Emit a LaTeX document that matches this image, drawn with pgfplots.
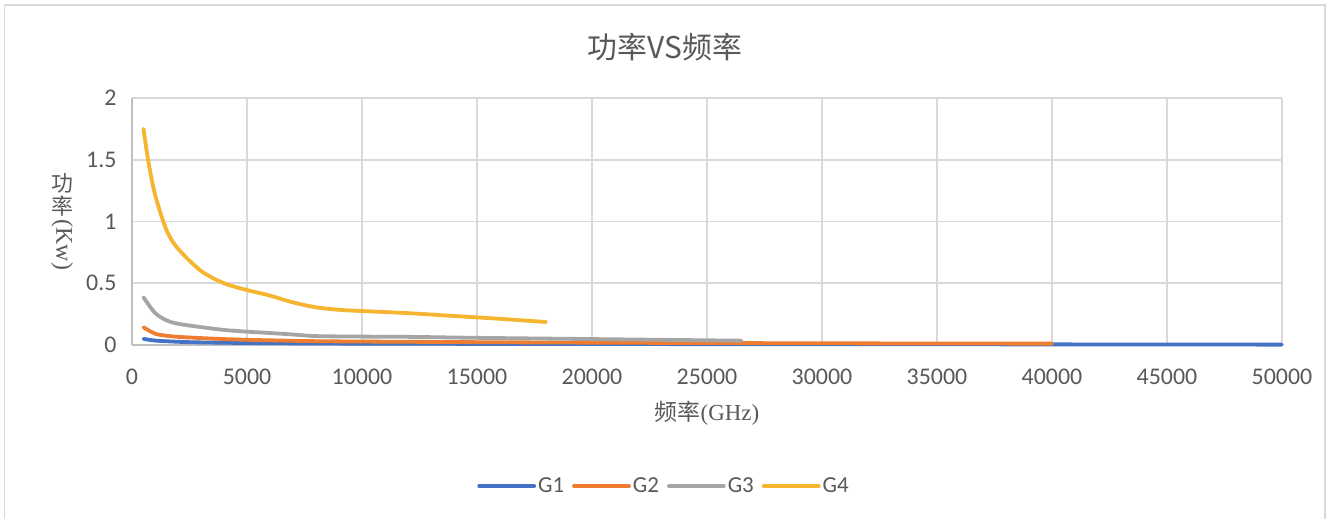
\documentclass[border=0pt]{standalone}
\usepackage{fontspec}
\setmainfont{Carlito}
\newfontfamily\cjk{Noto Sans CJK SC}
\newfontfamily\lserif{Liberation Serif}
\usepackage{pgfplots}
\pgfplotsset{compat=1.18}
\definecolor{cG1}{HTML}{4472C4}
\definecolor{cG2}{HTML}{ED7D31}
\definecolor{cG3}{HTML}{A5A5A5}
\definecolor{cG4}{HTML}{F6B530}
\definecolor{txt}{HTML}{595959}
\definecolor{grd}{HTML}{D9D9D9}
\definecolor{axl}{HTML}{BFBFBF}
\begin{document}
\begin{tikzpicture}
\useasboundingbox (0,0) rectangle (1330bp,519bp);
\fill[white] (0,0) rectangle (1330bp,519bp);
\draw[grd, line width=1.6bp] (4.5bp,-20bp) rectangle (1325bp,514bp);
\node[font=\cjk\fontsize{30}{33}\selectfont, text=txt] at (665bp,472bp) {功率VS频率};
\node[font=\cjk\fontsize{23}{26}\selectfont, text=txt] at (707bp,106bp) {频率{\lserif(GHz)}};
\node[font=\cjk\fontsize{22}{25}\selectfont, text=txt, align=center, inner sep=0pt] at (62bp,297bp) {功\\[-2bp]率\\[2bp]\rotatebox[origin=c]{-90}{\lserif\fontsize{24}{26}\selectfont(Kw)}};
\begin{axis}[
  at={(132bp,174bp)}, anchor=south west,
  width=1150bp, height=247bp, scale only axis,
  xmin=0, xmax=50000, ymin=0, ymax=2,
  xtick={0,5000,...,50000}, ytick={0,0.5,1,1.5,2},
  yticklabels={0,0.5,1,1.5,2},
  scaled x ticks=false,
  /pgf/number format/set thousands separator={},
  /pgf/number format/assume math mode=true,
  tick style={draw=none},
  grid=major,
  major grid style={grd, line width=1.8bp},
  axis line style={draw=none},
  tick label style={font=\fontsize{24}{27}\selectfont, text=txt},
  xticklabel style={yshift=-20bp},
  yticklabel style={xshift=-12bp},
  clip=false,
  legend columns=4,
  legend style={at={(0.4626,-0.571)}, anchor=center, draw=none, fill=none,
    font=\fontsize{23}{26}\selectfont, text=txt,
    /tikz/every even column/.append style={column sep=6bp},
    inner sep=0pt},
  legend image code/.code={\draw[#1] (0bp,0bp) -- (55bp,0bp);},
  every axis plot/.append style={line width=3.8bp, smooth, line cap=round},
]
\draw[axl, line width=1.8bp] (axis cs:0,0) -- (axis cs:0,2);
\draw[axl, line width=1.8bp] (axis cs:0,0) -- (axis cs:50000,0);
\addplot[cG1] coordinates {(500,0.05)(1000,0.036)(2000,0.026)(3000,0.021)(5000,0.016)(8000,0.012)(10000,0.011)(15000,0.009)(20000,0.008)(30000,0.006)(40000,0.005)(50000,0.003)};
\addplot[cG2] coordinates {(500,0.143)(1000,0.092)(1500,0.075)(2000,0.066)(3000,0.056)(4000,0.048)(5000,0.042)(6500,0.036)(8000,0.031)(10000,0.028)(15000,0.023)(20000,0.019)(25000,0.016)(30000,0.014)(35000,0.012)(40000,0.011)};
\addplot[cG3] coordinates {(500,0.386)(1000,0.26)(1500,0.2)(2000,0.172)(3000,0.145)(4000,0.122)(5000,0.108)(6000,0.097)(7000,0.085)(8000,0.072)(10000,0.068)(12000,0.066)(15000,0.058)(20000,0.048)(26500,0.035)};
\addplot[cG4] coordinates {(500,1.75)(700,1.5)(1000,1.22)(1500,0.93)(2000,0.78)(3000,0.6)(4000,0.5)(5000,0.445)(6000,0.4)(7000,0.345)(8000,0.305)(9000,0.285)(10000,0.275)(12000,0.258)(14000,0.235)(16000,0.212)(18000,0.186)};
\legend{G1,G2,G3,G4}
\end{axis}
\end{tikzpicture}
\end{document}
